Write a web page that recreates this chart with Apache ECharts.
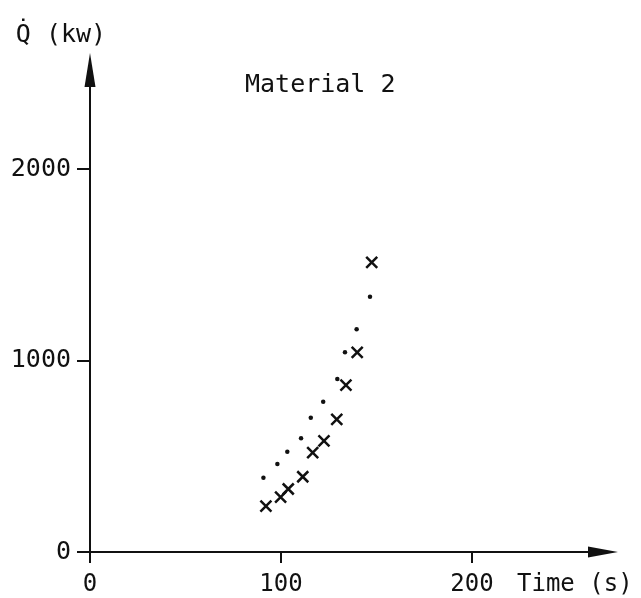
<!DOCTYPE html>
<html>
<head>
<meta charset="utf-8">
<script src="https://cdn.jsdelivr.net/npm/echarts@6/dist/echarts.min.js"></script>
<style>html,body{margin:0;padding:0;background:#fff}#c{width:641px;height:598px}</style>
</head>
<body>
<div id="c"></div>
<script>
// Data
var crossTime = [147.5, 139.9, 134.0, 129.2, 122.5, 116.6, 111.4, 103.8, 99.8, 92.1];
var crossQ    = [1513, 1043, 872, 693, 580, 519, 393, 329, 286, 240];
var dotTime   = [146.6, 139.6, 133.5, 129.5, 122.1, 115.6, 110.5, 103.3, 98.1, 90.8];
var dotQ      = [1333, 1163, 1043, 903, 785, 701, 594, 524, 460, 388];
var xTicks = [0, 100, 200];
var yTicks = [0, 1000, 2000];
var titleText = 'Material 2';
var xName = 'Time (s)';
var yName = 'Q\u0307 (kw)';

function pairs(xs, ys){ return xs.map(function(x,i){ return [x, ys[i]]; }); }
function plain(v){ return String(v); }

var FONT = 'DejaVu Sans Mono';
var INK = '#111';
var chart = echarts.init(document.getElementById('c'), null, {renderer:'canvas'});
chart.setOption({
  animation: false,
  backgroundColor: '#fff',
  title: {
    text: titleText, left: 240, top: 68,
    textStyle: {fontFamily: FONT, fontSize: 25, fontWeight: 'normal', color: INK}
  },
  grid: {left: 90, right: 38, top: 70, bottom: 46, containLabel: false},
  xAxis: {
    type: 'value', min: 0, max: 268.6,
    splitLine: {show: false},
    axisLine: {show: true, onZero: false, lineStyle: {color: INK, width: 2},
               symbol: ['none', 'triangle'], symbolSize: [11, 30]},
    axisTick: {show: true, length: 11, lineStyle: {color: INK, width: 2}, customValues: xTicks},
    axisLabel: {margin: 21, fontFamily: FONT, fontSize: 24, color: INK, customValues: xTicks, formatter: plain},
    name: xName, nameLocation: 'end', nameGap: -86,
    nameTextStyle: {fontFamily: FONT, fontSize: 24, color: INK, align: 'left', verticalAlign: 'top', padding: [21, 0, 0, 0]}
  },
  yAxis: {
    type: 'value', min: 0, max: 2517,
    splitLine: {show: false},
    axisLine: {show: true, onZero: false, lineStyle: {color: INK, width: 2},
               symbol: ['none', 'triangle'], symbolSize: [11, 34]},
    axisTick: {show: true, length: 13, lineStyle: {color: INK, width: 2}, customValues: yTicks},
    axisLabel: {margin: 19, fontFamily: FONT, fontSize: 25, color: INK, customValues: yTicks, formatter: plain},
    name: yName, nameLocation: 'end', nameGap: 22,
    nameTextStyle: {fontFamily: FONT, fontSize: 25, color: INK, align: 'center', padding: [0, 58, 0, 0]}
  },
  series: [
    {
      name: 'x', type: 'scatter', data: pairs(crossTime, crossQ),
      symbol: 'path://M0,0L10,10M10,0L0,10', symbolSize: 11,
      itemStyle: {color: 'transparent', borderColor: INK, borderWidth: 2.5, opacity: 1}
    },
    {
      name: 'dot', type: 'scatter', data: pairs(dotTime, dotQ),
      symbol: 'circle', symbolSize: 4.5,
      itemStyle: {color: INK, opacity: 1}
    }
  ]
});
</script>
</body>
</html>
